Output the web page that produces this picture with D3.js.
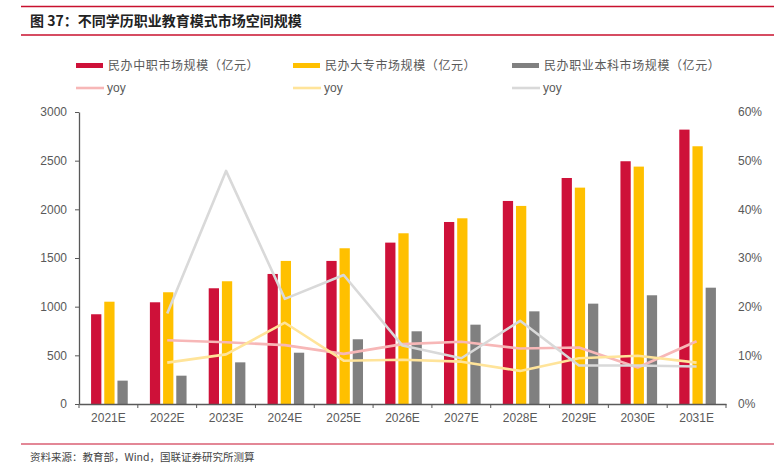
<!DOCTYPE html>
<html>
<head>
<meta charset="utf-8">
<script src="https://cdn.jsdelivr.net/npm/d3@7"></script>
<style>
  body { margin: 0; background: #fff; }
  svg text { font-family: "Liberation Sans", Arial, "Noto Sans CJK SC", sans-serif; }
  .cjk { font-family: "Noto Sans CJK SC", sans-serif; }
  .axis text { font-size: 12px; fill: #595959; }
  .axis path, .axis line { stroke: #595959; }
</style>
</head>
<body>
<div id="chart"></div>
<script>
// data
const years = ['2021E', '2022E', '2023E', '2024E', '2025E', '2026E', '2027E', '2028E', '2029E', '2030E', '2031E'];
const zhongzhi = [922, 1045, 1189, 1336, 1470, 1658, 1870, 2086, 2322, 2494, 2819];
const dazhuan = [1051, 1148, 1261, 1470, 1600, 1754, 1908, 2035, 2223, 2439, 2648];
const benke = [240, 291, 428, 527, 665, 747, 815, 952, 1031, 1117, 1195];
const yoyZhongzhi = [null, 0.131, 0.127, 0.121, 0.103, 0.123, 0.128, 0.114, 0.116, 0.075, 0.129];
const yoyDazhuan = [null, 0.085, 0.102, 0.167, 0.089, 0.091, 0.087, 0.068, 0.094, 0.099, 0.085];
const yoyBenke = [null, 0.186, 0.479, 0.216, 0.265, 0.120, 0.094, 0.171, 0.079, 0.079, 0.077];
const leftTicks = [0, 500, 1000, 1500, 2000, 2500, 3000];
const rightTicks = [0, 0.1, 0.2, 0.3, 0.4, 0.5, 0.6];

const barSeries = [
  {key: 'zz', name: '民办中职市场规模（亿元）', values: zhongzhi, color: '#CE1139'},
  {key: 'dz', name: '民办大专市场规模（亿元）', values: dazhuan, color: '#FFC000'},
  {key: 'bk', name: '民办职业本科市场规模（亿元）', values: benke, color: '#808080'}
];
const lineSeries = [
  {key: 'zz', values: yoyZhongzhi, color: '#F7B7B7'},
  {key: 'dz', values: yoyDazhuan, color: '#FFE49A'},
  {key: 'bk', values: yoyBenke, color: '#D9D9D9'}
];

const W = 774, H = 468;
const plot = {left: 79, right: 726, top: 112, bottom: 404};

const svg = d3.select('#chart').append('svg')
  .attr('width', W).attr('height', H);

// title + frame lines
svg.append('line').attr('x1', 21).attr('x2', W).attr('y1', 6.5).attr('y2', 6.5)
  .attr('stroke', '#C8102E').attr('stroke-width', 1.3);
svg.append('line').attr('x1', 21).attr('x2', W).attr('y1', 35).attr('y2', 35)
  .attr('stroke', '#C8102E').attr('stroke-width', 1.3);
svg.append('text').attr('class', 'cjk')
  .attr('x', 30).attr('y', 26)
  .style('font-size', '14px').style('font-weight', 'bold').attr('fill', '#222')
  .text('图 37：不同学历职业教育模式市场空间规模');

svg.append('line').attr('x1', 21).attr('x2', W).attr('y1', 444).attr('y2', 444)
  .attr('stroke', '#C8102E').attr('stroke-width', 1.2);
svg.append('text').attr('class', 'cjk')
  .attr('x', 30).attr('y', 461)
  .style('font-size', '10.5px').attr('fill', '#444')
  .text('资料来源：教育部，Wind，国联证券研究所测算');

// scales
const x = d3.scaleBand().domain(years).range([plot.left, plot.right]).padding(0);
const xSub = d3.scaleBand().domain(barSeries.map(d => d.key))
  .range([0, x.bandwidth()]).paddingInner(0.22).paddingOuter(0.84);
const y = d3.scaleLinear().domain([0, 3000]).range([plot.bottom, plot.top]);
const yR = d3.scaleLinear().domain([0, 0.6]).range([plot.bottom, plot.top]);

// bars
const groups = svg.append('g').attr('class', 'bars')
  .selectAll('g').data(barSeries).enter().append('g')
  .attr('fill', d => d.color);
groups.selectAll('rect')
  .data(s => s.values.map((v, i) => ({key: s.key, year: years[i], value: v})))
  .enter().append('rect')
  .attr('x', d => x(d.year) + xSub(d.key) + 1)
  .attr('width', xSub.bandwidth())
  .attr('y', d => y(d.value))
  .attr('height', d => y(0) - y(d.value));

// yoy lines
const line = d3.line()
  .defined(d => d.value != null)
  .x(d => x(d.year) + x.bandwidth() / 2)
  .y(d => yR(d.value));
svg.append('g').attr('class', 'lines')
  .selectAll('path').data(lineSeries).enter().append('path')
  .attr('fill', 'none')
  .attr('stroke', d => d.color)
  .attr('stroke-width', 2.6)
  .attr('stroke-linejoin', 'round')
  .attr('d', s => line(s.values.map((v, i) => ({year: years[i], value: v}))));

// left axis
svg.append('g').attr('class', 'axis')
  .attr('transform', `translate(${plot.left},0)`)
  .call(d3.axisLeft(y).tickValues(leftTicks).tickFormat(d3.format('d'))
    .tickSize(4).tickSizeOuter(0).tickPadding(8))
  .call(g => g.select('.domain').attr('stroke-width', 1.3));

// right axis
svg.append('g').attr('class', 'axis right')
  .attr('transform', `translate(${plot.right + 8},0)`)
  .call(d3.axisRight(yR).tickValues(rightTicks).tickFormat(d3.format('.0%')).tickSize(0).tickPadding(4))
  .call(g => g.select('.domain').remove())
  .call(g => g.selectAll('text').attr('fill', '#8c8c8c'));

// bottom axis
const xAxis = svg.append('g').attr('class', 'axis')
  .attr('transform', `translate(0,${plot.bottom})`)
  .call(d3.axisBottom(x).tickSize(0).tickPadding(9))
  .call(g => g.select('.domain').attr('stroke-width', 1.3));
xAxis.selectAll('.sep')
  .data(years.map(d => x(d)).concat([plot.right]))
  .enter().append('line').attr('class', 'sep')
  .attr('x1', d => d).attr('x2', d => d)
  .attr('y1', 0).attr('y2', 4);

// legend
const legX = [76, 293, 512];
const legend = svg.append('g').attr('class', 'legend');
barSeries.forEach((s, i) => {
  legend.append('rect').attr('x', legX[i]).attr('y', 63)
    .attr('width', 27).attr('height', 5).attr('fill', s.color);
  legend.append('text').attr('class', 'cjk')
    .attr('x', legX[i] + 32).attr('y', 70)
    .style('font-size', '12px').style('letter-spacing', '0.6px').attr('fill', '#595959')
    .text(s.name);
});
lineSeries.forEach((s, i) => {
  legend.append('line').attr('x1', legX[i]).attr('x2', legX[i] + 28)
    .attr('y1', 88).attr('y2', 88)
    .attr('stroke', s.color).attr('stroke-width', 2.6);
  legend.append('text')
    .attr('x', legX[i] + 31).attr('y', 92)
    .style('font-size', '12px').attr('fill', '#595959')
    .text('yoy');
});
</script>
</body>
</html>
